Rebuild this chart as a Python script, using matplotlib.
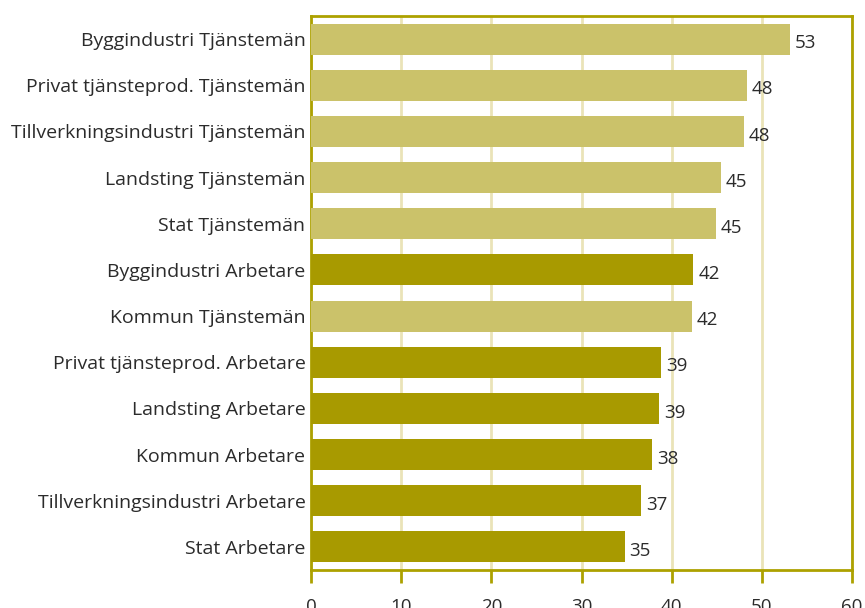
import matplotlib
matplotlib.use("Agg")
import matplotlib.pyplot as plt

categories = [
    "Byggindustri Tjänstemän",
    "Privat tjänsteprod. Tjänstemän",
    "Tillverkningsindustri Tjänstemän",
    "Landsting Tjänstemän",
    "Stat Tjänstemän",
    "Byggindustri Arbetare",
    "Kommun Tjänstemän",
    "Privat tjänsteprod. Arbetare",
    "Landsting Arbetare",
    "Kommun Arbetare",
    "Tillverkningsindustri Arbetare",
    "Stat Arbetare",
]
values = [53.1, 48.3, 48.0, 45.5, 44.9, 42.4, 42.2, 38.8, 38.6, 37.8, 36.6, 34.8]
labels = [53, 48, 48, 45, 45, 42, 42, 39, 39, 38, 37, 35]
x_ticks = [0, 10, 20, 30, 40, 50, 60]

LIGHT = "#CBC26A"
DARK = "#A89A00"
SPINE = "#ADA100"
GRID = "#EAE3B8"
TEXT = "#2B2B2B"

plt.rcParams["font.family"] = ["Open Sans", "DejaVu Sans"]

fig = plt.figure(figsize=(8.65, 6.08), dpi=100)
ax = fig.add_axes([311 / 865, 38 / 608, (852 - 311) / 865, (570 - 16) / 608])

colors = [DARK if c.endswith("Arbetare") else LIGHT for c in categories]
ypos = list(range(len(categories)))
ax.barh(ypos, values, height=0.67, color=colors, zorder=3)

for y, v, lab in zip(ypos, values, labels):
    ax.annotate(str(lab), (v, y), xytext=(3.5, -3), textcoords="offset points",
                ha="left", va="center", fontsize=13.5, color=TEXT, zorder=4)

ax.set_xlim(0, 60)
ax.set_ylim(len(categories) - 0.5, -0.5)
ax.set_xticks(x_ticks)
ax.set_xticklabels([str(t) for t in x_ticks])
ax.set_yticks(ypos)
ax.set_yticklabels(categories)

ax.xaxis.grid(True, color=GRID, linewidth=2, zorder=0)
ax.yaxis.grid(False)
ax.set_axisbelow(True)

for s in ax.spines.values():
    s.set_color(SPINE)
    s.set_linewidth(2)

ax.tick_params(axis="x", direction="out", length=9, width=2, color=SPINE,
               labelsize=13.5, labelcolor=TEXT, pad=11)
ax.tick_params(axis="y", length=0, labelsize=14, labelcolor=TEXT, pad=4)

fig.savefig("out.png", dpi=100)
